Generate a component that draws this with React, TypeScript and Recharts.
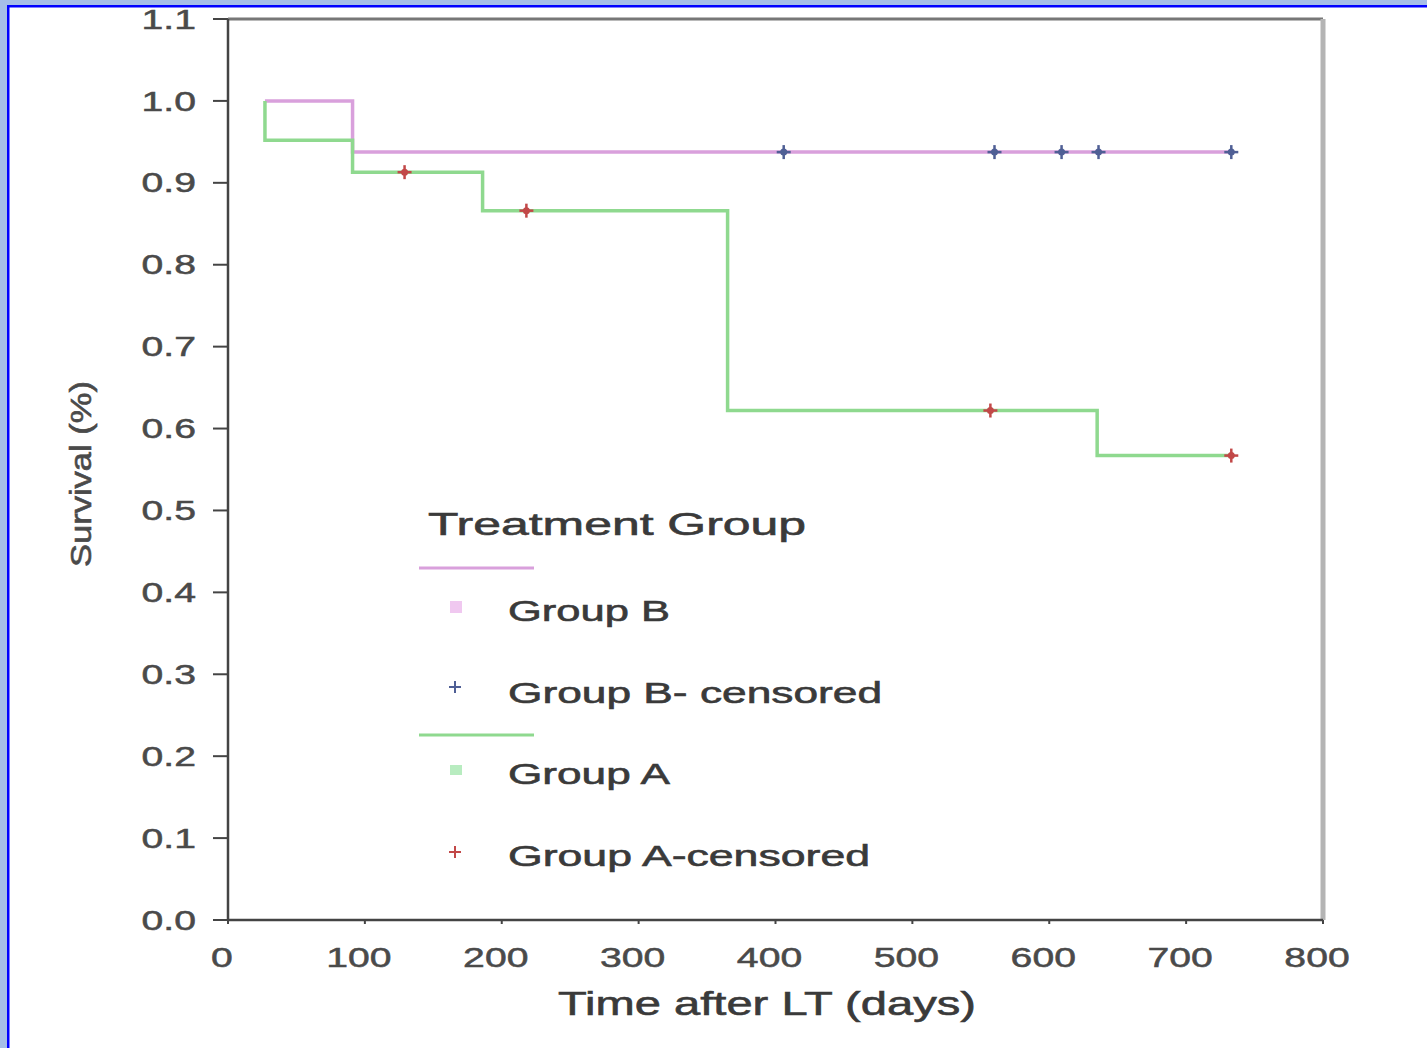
import React from "react";
import { ComposedChart, Line, Scatter, XAxis, YAxis, ReferenceLine } from "recharts";

const xTicks = [0, 100, 200, 300, 400, 500, 600, 700, 800];
const yTicks = [0, 0.1, 0.2, 0.3, 0.4, 0.5, 0.6, 0.7, 0.8, 0.9, 1.0, 1.1];

const groupB = [
  { t: 27, s: 1.0 },
  { t: 91, s: 0.9375 },
  { t: 733, s: 0.9375 },
];
const groupA = [
  { t: 27, s: 1.0 },
  { t: 27, s: 0.952 },
  { t: 91, s: 0.913 },
  { t: 186, s: 0.866 },
  { t: 365, s: 0.622 },
  { t: 635, s: 0.567 },
  { t: 733, s: 0.567 },
];
const groupBCensored = [
  { t: 406, s: 0.9375 },
  { t: 560, s: 0.9375 },
  { t: 609, s: 0.9375 },
  { t: 636, s: 0.9375 },
  { t: 733, s: 0.9375 },
];
const groupACensored = [
  { t: 129, s: 0.913 },
  { t: 218, s: 0.866 },
  { t: 557, s: 0.622 },
  { t: 733, s: 0.567 },
];

const legendTitle = "Treatment Group";
const legendLabels = ["Group B", "Group B- censored", "Group A", "Group A-censored"];
const xLabel = "Time after LT (days)";
const yLabel = "Survival (%)";

const PINK = "#d9a0dc";
const GREEN = "#8fd98f";
const BLUE = "#4f5f95";
const RED = "#c24848";
const FONT = "'Liberation Sans', Arial, sans-serif";

const makePlus = (color: string) => (props: any) => {
  const { cx, cy } = props;
  if (cx == null || cy == null) return null;
  return (
    <g>
      <line x1={cx - 7} y1={cy} x2={cx + 7} y2={cy} stroke={color} strokeWidth={2.5} />
      <line x1={cx} y1={cy - 7} x2={cx} y2={cy + 7} stroke={color} strokeWidth={2.5} />
      <circle cx={cx} cy={cy} r={3.5} fill={color} />
    </g>
  );
};

const YTick = (props: any) => {
  const { x, y, payload } = props;
  return (
    <g transform={`translate(${x},${y}) scale(1.45,1)`}>
      <text x={0} y={0} dy="0.355em" textAnchor="end" fontFamily={FONT} fontSize={27} fill="#4a4a4a" stroke="#4a4a4a" strokeWidth={0.5}>
        {Number(payload.value).toFixed(1)}
      </text>
    </g>
  );
};

const XTick = (props: any) => {
  const { x, y, payload } = props;
  return (
    <g transform={`translate(${x - 6},${y}) scale(1.45,1)`}>
      <text x={0} y={0} dy="0.71em" textAnchor="middle" fontFamily={FONT} fontSize={27} fill="#4a4a4a" stroke="#4a4a4a" strokeWidth={0.5}>
        {payload.value}
      </text>
    </g>
  );
};

const textStyle = { fontFamily: FONT, fill: "#3a3a3a", stroke: "#3a3a3a", strokeWidth: 0.6 };

export default function App() {
  return (
    <div style={{ position: "absolute", left: 0, top: 0, width: 1427, height: 1048, background: "#fff", overflow: "hidden" }}>
      <ComposedChart
        width={1427}
        height={1048}
        margin={{ top: 19, right: 104, bottom: 0, left: 0 }}
      >
        <XAxis
          type="number"
          dataKey="t"
          domain={[0, 800]}
          ticks={xTicks}
          height={128}
          axisLine={{ stroke: "#444", strokeWidth: 2.5 }}
          tickLine={{ stroke: "#444", strokeWidth: 2 }}
          tickSize={4}
          tickMargin={24}
          tick={<XTick />}
          allowDataOverflow
        />
        <YAxis
          type="number"
          domain={[0, 1.1]}
          ticks={yTicks}
          width={228}
          axisLine={{ stroke: "#444", strokeWidth: 2.5 }}
          tickLine={{ stroke: "#444", strokeWidth: 2 }}
          tickSize={15}
          tickMargin={17}
          tick={<YTick />}
          allowDataOverflow
        />
        <ReferenceLine y={1.1} stroke="#777" strokeWidth={3} />
        <ReferenceLine x={800} stroke="#b4b4b4" strokeWidth={5} />
        <Line data={groupB} dataKey="s" type="stepAfter" stroke={PINK} strokeWidth={3.5} dot={false} isAnimationActive={false} />
        <Line data={groupA} dataKey="s" type="stepAfter" stroke={GREEN} strokeWidth={3.5} dot={false} isAnimationActive={false} />
        <Scatter data={groupBCensored} dataKey="s" shape={makePlus(BLUE)} isAnimationActive={false} />
        <Scatter data={groupACensored} dataKey="s" shape={makePlus(RED)} isAnimationActive={false} />
      </ComposedChart>
      <svg width={1427} height={1048} style={{ position: "absolute", left: 0, top: 0, pointerEvents: "none" }}>
        <rect x={0} y={0} width={1427} height={5} fill="#a6bee8" />
        <rect x={0} y={5} width={1427} height={2.5} fill="#0000ff" />
        <rect x={0} y={0} width={7} height={1048} fill="#a6bee8" />
        <rect x={7} y={5} width={2.5} height={1043} fill="#0000ff" />

        <text x={428} y={535} fontSize={32} {...textStyle} textLength={378} lengthAdjust="spacingAndGlyphs">
          {legendTitle}
        </text>
        <line x1={419} y1={568} x2={534} y2={568} stroke={PINK} strokeWidth={3} />
        <rect x={450} y={601} width={12} height={12} fill="#f0c8f0" />
        <text x={508} y={621} fontSize={29} {...textStyle} textLength={162} lengthAdjust="spacingAndGlyphs">
          {legendLabels[0]}
        </text>
        <g>
          <line x1={449} y1={687} x2={461} y2={687} stroke={BLUE} strokeWidth={2} />
          <line x1={455} y1={681} x2={455} y2={693} stroke={BLUE} strokeWidth={2} />
        </g>
        <text x={508} y={703} fontSize={29} {...textStyle} textLength={374} lengthAdjust="spacingAndGlyphs">
          {legendLabels[1]}
        </text>
        <line x1={419} y1={735} x2={534} y2={735} stroke={GREEN} strokeWidth={3} />
        <rect x={450} y={765} width={12} height={10} fill="#b8ecc0" />
        <text x={508} y={784} fontSize={29} {...textStyle} textLength={162} lengthAdjust="spacingAndGlyphs">
          {legendLabels[2]}
        </text>
        <g>
          <line x1={449} y1={852} x2={461} y2={852} stroke={RED} strokeWidth={2} />
          <line x1={455} y1={846} x2={455} y2={858} stroke={RED} strokeWidth={2} />
        </g>
        <text x={508} y={866} fontSize={29} {...textStyle} textLength={362} lengthAdjust="spacingAndGlyphs">
          {legendLabels[3]}
        </text>

        <text x={558} y={1015} fontSize={33} {...textStyle} textLength={418} lengthAdjust="spacingAndGlyphs">
          {xLabel}
        </text>
        <text
          transform="translate(91,474) rotate(-90)"
          textAnchor="middle"
          fontSize={29}
          {...textStyle}
          fill="#4a4a4a"
          stroke="#4a4a4a"
          textLength={186}
          lengthAdjust="spacingAndGlyphs"
        >
          {yLabel}
        </text>
      </svg>
    </div>
  );
}
